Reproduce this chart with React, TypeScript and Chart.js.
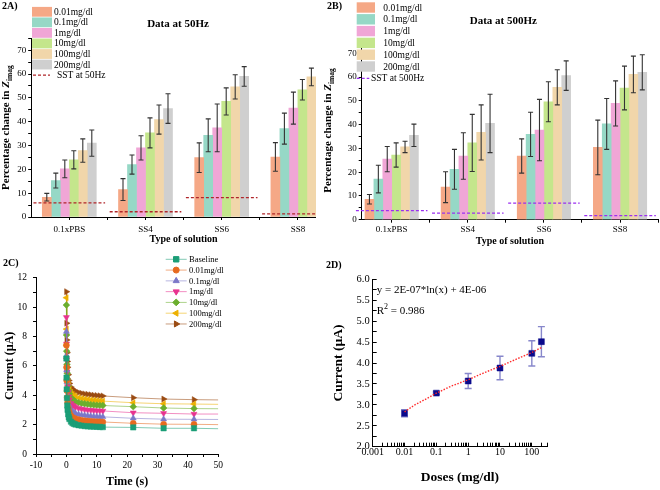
import React, { useEffect, useRef } from 'react';
import { Chart, registerables } from 'chart.js';
import { drawPoint } from 'chart.js/helpers';

Chart.register(...registerables);

const SERIF = "'Liberation Serif', 'Times New Roman', serif";
Chart.defaults.font.family = SERIF;
Chart.defaults.color = '#000';

// ---------------- 2A / 2B : bar charts ----------------
const solutions = ['0.1xPBS', 'SS4', 'SS6', 'SS8'];
const doseLabels = ['0.01mg/dl', '0.1mg/dl', '1mg/dl', '10mg/dl', '100mg/dl', '200mg/dl'];
const barColors = ['#F5A886', '#96D8C6', '#F0A6D6', '#C4E68C', '#F1D6AA', '#CFCFCF'];

// 50 Hz (per dose, values for the 4 solutions)
const pct50_001 = [8.3, 11.5, 24.9, 25.2];
const pct50_01 = [15.3, 22.0, 34.3, 37.1];
const pct50_1 = [20.2, 29.0, 37.4, 45.7];
const pct50_10 = [24.0, 35.3, 48.5, 53.4];
const pct50_100 = [27.9, 40.9, 54.6, 58.8];
const pct50_200 = [31.0, 45.5, 59.0, null];
const err50_001 = [1.6, 4.6, 6.2, 6.0];
const err50_01 = [3.1, 4.0, 6.9, 6.5];
const err50_1 = [3.7, 5.1, 10.0, 6.7];
const err50_10 = [3.8, 6.3, 5.7, 4.3];
const err50_100 = [4.9, 6.1, 5.1, 3.7];
const err50_200 = [5.5, 6.2, 4.1, null];
const sst50 = [5.9, 2.2, 8.1, 1.3];

// 500 Hz
const pct500_001 = [8.6, 13.7, 26.8, 30.4];
const pct500_01 = [17.1, 21.2, 35.9, 40.3];
const pct500_1 = [25.5, 26.8, 37.7, 48.9];
const pct500_10 = [27.2, 32.3, 49.6, 55.4];
const pct500_100 = [30.6, 36.7, 55.7, 61.1];
const pct500_200 = [35.5, 40.5, 60.6, 62.0];
const err500_001 = [2.0, 6.5, 7.2, 11.5];
const err500_01 = [5.8, 8.4, 9.3, 10.7];
const err500_1 = [5.3, 9.8, 12.9, 9.5];
const err500_10 = [5.1, 12.0, 8.4, 9.2];
const err500_100 = [2.4, 11.6, 7.4, 7.7];
const err500_200 = [4.7, 12.3, 6.2, 7.4];
const sst500 = [3.8, 2.8, 7.0, 1.7];

const solutionTickVals = [0, 0.5, 1, 1.5, 2, 2.5, 3, 3.5];
const pctTickVals = [0, 5, 10, 15, 20, 25, 30, 35, 40, 45, 50, 55, 60, 65, 70, 75];

// ---------------- 2C : chronoamperometry ----------------
const timeS = [0, 0.05, 0.1, 0.2, 0.3, 0.4, 0.6, 0.8, 1, 1.5, 2, 2.5, 3, 4, 5, 6, 7, 8, 9, 10, 11, 12, 22, 32, 42, 50];
const curveLabels = ['Baseline', '0.01mg/dl', '0.1mg/dl', '1mg/dl', '10mg/dl', '100mg/dl', '200mg/dl'];
const curBase = [6.5, 5.2, 4.4, 3.8, 3.3, 3.0, 2.7, 2.5, 2.38, 2.2, 2.1, 2.05, 2.01, 1.96, 1.93, 1.9, 1.88, 1.87, 1.86, 1.85, 1.84, 1.83, 1.81, 1.75, 1.75, 1.72];
const cur001 = [7.4, 5.9, 5.0, 4.3, 3.85, 3.5, 3.15, 2.95, 2.8, 2.6, 2.5, 2.44, 2.4, 2.34, 2.3, 2.27, 2.25, 2.23, 2.21, 2.2, 2.19, 2.18, 2.09, 2.03, 2.02, 2.0];
const cur01 = [8.33, 6.7, 5.7, 4.9, 4.4, 4.0, 3.6, 3.35, 3.2, 3.0, 2.9, 2.82, 2.77, 2.7, 2.66, 2.63, 2.6, 2.58, 2.56, 2.55, 2.54, 2.53, 2.43, 2.37, 2.36, 2.35];
const cur1 = [9.3, 7.5, 6.4, 5.6, 5.0, 4.6, 4.2, 3.9, 3.7, 3.45, 3.33, 3.25, 3.19, 3.12, 3.07, 3.03, 3.0, 2.98, 2.96, 2.95, 2.94, 2.93, 2.81, 2.77, 2.72, 2.72];
const cur10 = [10.14, 8.1, 7.0, 6.1, 5.5, 5.1, 4.65, 4.3, 4.1, 3.85, 3.72, 3.63, 3.57, 3.5, 3.45, 3.42, 3.39, 3.36, 3.34, 3.32, 3.31, 3.3, 3.22, 3.13, 3.09, 3.08];
const cur100 = [10.64, 8.5, 7.4, 6.5, 5.9, 5.5, 5.0, 4.65, 4.45, 4.2, 4.06, 3.97, 3.91, 3.83, 3.78, 3.74, 3.71, 3.68, 3.66, 3.64, 3.62, 3.6, 3.49, 3.42, 3.4, 3.38];
const cur200 = [11.05, 8.9, 7.76, 6.9, 6.3, 5.9, 5.4, 5.0, 4.8, 4.55, 4.42, 4.33, 4.27, 4.19, 4.13, 4.09, 4.06, 4.03, 4.0, 3.98, 3.96, 3.95, 3.83, 3.74, 3.7, 3.68];
const curveMarkColors = ['#1B9E77', '#E66A1F', '#7B78C8', '#E8338F', '#6BAE2E', '#EDB000', '#9A4B12'];
const curveLineColors = ['rgba(27,158,119,0.55)', 'rgba(230,106,31,0.55)', 'rgba(123,120,200,0.55)', 'rgba(232,51,143,0.55)', 'rgba(107,174,46,0.55)', 'rgba(237,176,0,0.55)', 'rgba(154,75,18,0.55)'];
const curveShapes = ['rect', 'circle', 'triangle', 'triangle', 'rectRot', 'triangle', 'triangle'];
const curveRotations = [0, 0, 0, 180, 0, 270, 90];
const curveRadii = [3.8, 3.0, 3.5, 3.5, 3.4, 3.5, 3.5];
const timeTickVals = [-10, -5, 0, 5, 10, 15, 20, 25, 30, 35, 40, 45, 50];
const currentTickVals = [0, 1, 2, 3, 4, 5, 6, 7, 8, 9, 10, 11, 12];

// ---------------- 2D : dose response ----------------
const doseX = [0.01, 0.1, 1, 10, 100, 200];
const doseCurrent = [2.8, 3.28, 3.57, 3.88, 4.23, 4.51];
const doseCurrentErr = [0.085, 0.03, 0.18, 0.28, 0.3, 0.36];
const fitX = [0.01, 0.02, 0.05, 0.1, 0.3, 1, 3, 10, 30, 100, 200];
const fitY = [2.83, 2.99, 3.15, 3.28, 3.45, 3.6, 3.76, 3.92, 4.08, 4.25, 4.37];
const doseTickLabels = ['0.001', '0.01', '0.1', '1', '10', '100'];
const doseCurrentTickVals = [2, 2.25, 2.5, 2.75, 3, 3.25, 3.5, 3.75, 4, 4.25, 4.5, 4.75, 5, 5.25, 5.5, 5.75, 6];

// ---------------- helpers / plugins ----------------
type Part = { text: string; font: string; dy?: number };
type TextItem = { parts: Part[]; x: number; y: number; align?: 'left' | 'center'; rotate?: boolean };

function drawParts(ctx: CanvasRenderingContext2D, it: TextItem) {
  ctx.save();
  ctx.translate(it.x, it.y);
  if (it.rotate) ctx.rotate(-Math.PI / 2);
  let total = 0;
  for (const p of it.parts) { ctx.font = p.font; total += ctx.measureText(p.text).width; }
  let x = it.align === 'left' ? 0 : -total / 2;
  ctx.textBaseline = 'alphabetic';
  ctx.textAlign = 'left';
  ctx.fillStyle = '#000';
  for (const p of it.parts) {
    ctx.font = p.font;
    ctx.fillText(p.text, x, p.dy ?? 0);
    x += ctx.measureText(p.text).width;
  }
  ctx.restore();
}

const textPlugin = (items: TextItem[]) => ({
  id: 'panelText',
  afterDraw(chart: any) { items.forEach((it) => drawParts(chart.ctx, it)); },
});

type LegendItem = { label: string; kind: 'box' | 'dash' | 'marker'; color: string; lineColor?: string; pointStyle?: string; rotation?: number; radius?: number };
type LegendCfg = {
  items: LegendItem[]; y0: number; dy: number; font: string;
  boxX?: number; boxW?: number; boxH?: number; textX: number;
  dashX0?: number; dashX1?: number; dashTextX?: number; lineX0?: number; lineX1?: number;
};

const legendPlugin = (cfg: LegendCfg) => ({
  id: 'panelLegend',
  afterDraw(chart: any) {
    const ctx: CanvasRenderingContext2D = chart.ctx;
    ctx.save();
    cfg.items.forEach((it, k) => {
      const y = cfg.y0 + k * cfg.dy;
      let tx = cfg.textX;
      if (it.kind === 'box') {
        ctx.fillStyle = it.color;
        ctx.fillRect(cfg.boxX!, y - cfg.boxH! / 2, cfg.boxW!, cfg.boxH!);
      } else if (it.kind === 'dash') {
        ctx.strokeStyle = it.color;
        ctx.lineWidth = 1.3;
        ctx.setLineDash([3, 2]);
        ctx.beginPath();
        ctx.moveTo(cfg.dashX0!, y);
        ctx.lineTo(cfg.dashX1!, y);
        ctx.stroke();
        ctx.setLineDash([]);
        tx = cfg.dashTextX ?? tx;
      } else {
        ctx.strokeStyle = it.lineColor || it.color;
        ctx.lineWidth = 1;
        ctx.beginPath();
        ctx.moveTo(cfg.lineX0!, y);
        ctx.lineTo(cfg.lineX1!, y);
        ctx.stroke();
        ctx.fillStyle = it.color;
        ctx.strokeStyle = it.color;
        drawPoint(ctx, { pointStyle: it.pointStyle as any, rotation: it.rotation || 0, radius: it.radius || 3, borderWidth: 0.5 } as any, (cfg.lineX0! + cfg.lineX1!) / 2, y);
      }
      ctx.fillStyle = '#000';
      ctx.font = cfg.font;
      ctx.textAlign = 'left';
      ctx.textBaseline = 'middle';
      ctx.fillText(it.label, tx, y + 0.5);
    });
    ctx.restore();
  },
});

const errorBarPlugin = (cfg: { color: string; width: number; cap: number; under?: boolean }) => {
  const draw = (chart: any) => {
    const ctx: CanvasRenderingContext2D = chart.ctx;
    const ys = chart.scales.y;
    ctx.save();
    ctx.strokeStyle = cfg.color;
    ctx.lineWidth = cfg.width;
    chart.data.datasets.forEach((ds: any, di: number) => {
      if (!ds.errors) return;
      const meta = chart.getDatasetMeta(di);
      meta.data.forEach((el: any, i: number) => {
        const e = ds.errors[i];
        const raw = ds.data[i];
        const v = raw ? raw.y : null;
        if (e == null || v == null) return;
        const x = el.x;
        const yt = ys.getPixelForValue(v + e);
        const yb = ys.getPixelForValue(v - e);
        ctx.beginPath();
        ctx.moveTo(x, yt); ctx.lineTo(x, yb);
        ctx.moveTo(x - cfg.cap / 2, yt); ctx.lineTo(x + cfg.cap / 2, yt);
        ctx.moveTo(x - cfg.cap / 2, yb); ctx.lineTo(x + cfg.cap / 2, yb);
        ctx.stroke();
      });
    });
    ctx.restore();
  };
  return {
    id: 'errorBars',
    beforeDatasetsDraw(chart: any) { if (cfg.under) draw(chart); },
    afterDatasetsDraw(chart: any) { if (!cfg.under) draw(chart); },
  };
};

const axisLine = { display: true, color: '#000', width: 1 };
const gridOut = (len: number) => ({ drawOnChartArea: false, drawTicks: true, tickLength: len, tickColor: '#000', tickWidth: 1, color: '#000', offset: false });

type BarPanel = {
  means: (number | null)[][]; errs: (number | null)[][]; sst: number[]; sstLabel: string; sstColor: string;
  title: string; titleX: number; titleY: number; zTitleX: number; zTitleY: number;
  xMin: number; xMax: number; padTop: number; padRight: number; yWidth: number; xHeight: number;
  xTickPad: number; xTitlePad: number; thickness: number; legend: LegendCfg;
};

function barConfig(p: BarPanel): any {
  const barSets = p.means.map((m, k) => ({
    type: 'bar',
    label: doseLabels[k],
    data: m.map((v, i) => ({ x: i, y: v })),
    errors: p.errs[k],
    backgroundColor: barColors[k],
    borderWidth: 0,
    barThickness: p.thickness,
    order: 2,
  }));
  const sstSet = {
    type: 'line',
    label: p.sstLabel,
    data: p.sst.flatMap((v, i) => [{ x: i - 0.47, y: v }, { x: i + 0.47, y: v }, { x: i + 0.5, y: null }]),
    borderColor: p.sstColor,
    borderWidth: 1.3,
    borderDash: [3, 2],
    pointRadius: 0,
    spanGaps: false,
    clip: false,
    order: 0,
  };
  const bold11 = `bold 11px ${SERIF}`;
  return {
    type: 'bar',
    data: { datasets: [...barSets, sstSet] },
    options: {
      responsive: false,
      animation: false,
      layout: { padding: { left: 0, top: p.padTop, right: p.padRight, bottom: 0 } },
      plugins: { legend: { display: false }, tooltip: { enabled: false }, title: { display: false } },
      scales: {
        x: {
          type: 'linear', min: p.xMin, max: p.xMax, offset: false,
          afterBuildTicks: (s: any) => { s.ticks = solutionTickVals.map((v) => ({ value: v })); },
          afterFit: (s: any) => { s.height = p.xHeight; },
          ticks: {
            autoSkip: false, maxRotation: 0, minRotation: 0, padding: p.xTickPad, font: { size: 9 },
            callback: (v: number) => (Number.isInteger(v) && solutions[v] ? solutions[v] : ''),
          },
          grid: gridOut(3),
          border: axisLine,
          title: { display: true, text: 'Type of solution', font: { size: 10, weight: 'bold' }, padding: { top: 0, bottom: p.xTitlePad } },
        },
        y: {
          type: 'linear', min: 0, max: 75,
          afterBuildTicks: (s: any) => { s.ticks = pctTickVals.map((v) => ({ value: v })); },
          afterFit: (s: any) => { s.width = p.yWidth; },
          ticks: { autoSkip: false, padding: 2, font: { size: 9 }, callback: (v: number) => (v % 10 === 0 ? String(v) : '') },
          grid: gridOut(3),
          border: axisLine,
        },
      },
    },
    plugins: [
      errorBarPlugin({ color: '#333', width: 1.1, cap: 5 }),
      legendPlugin(p.legend),
      textPlugin([
        { parts: [{ text: p.title, font: bold11 }], x: p.titleX, y: p.titleY },
        {
          rotate: true, x: p.zTitleX, y: p.zTitleY,
          parts: [
            { text: 'Percentage change in ', font: bold11 },
            { text: 'Z', font: `italic bold 11px ${SERIF}` },
            { text: 'imag', font: `bold 7.5px ${SERIF}`, dy: 2.5 },
          ],
        },
      ]),
    ],
  };
}

function legendItemsBars(sstLabel: string, sstColor: string): LegendItem[] {
  return [
    ...doseLabels.map((l, k) => ({ label: l, kind: 'box' as const, color: barColors[k] })),
    { label: sstLabel, kind: 'dash' as const, color: sstColor },
  ];
}

function configA(): any {
  return barConfig({
    means: [pct50_001, pct50_01, pct50_1, pct50_10, pct50_100, pct50_200],
    errs: [err50_001, err50_01, err50_1, err50_10, err50_100, err50_200],
    sst: sst50, sstLabel: 'SST at 50Hz', sstColor: '#B0262A',
    title: 'Data at 50Hz', titleX: 178, titleY: 27,
    zTitleX: 9, zTitleY: 127.6,
    xMin: -0.5, xMax: 3.5, padTop: 38.3, padRight: 20, yWidth: 31.2, xHeight: 33,
    xTickPad: 4.4, xTitlePad: 4.5, thickness: 9,
    legend: {
      items: legendItemsBars('SST at 50Hz', '#B0262A'), y0: 11.8, dy: 10.55, font: `9.5px ${SERIF}`,
      boxX: 32, boxW: 20, boxH: 9.8, textX: 54, dashX0: 33, dashX1: 50, dashTextX: 57,
    },
  });
}

function configB(): any {
  return barConfig({
    means: [pct500_001, pct500_01, pct500_1, pct500_10, pct500_100, pct500_200],
    errs: [err500_001, err500_01, err500_1, err500_10, err500_100, err500_200],
    sst: sst500, sstLabel: 'SST at 500Hz', sstColor: '#9B30F0',
    title: 'Data at 500Hz', titleX: 185.3, titleY: 24,
    zTitleX: 13, zTitleY: 130.5,
    xMin: -0.394, xMax: 3.5, padTop: 41.4, padRight: 1.6, yWidth: 43.7, xHeight: 32.3,
    xTickPad: 1.9, xTitlePad: 4.3, thickness: 8.9,
    legend: {
      items: legendItemsBars('SST at 500Hz', '#9B30F0'), y0: 7.5, dy: 11.8, font: `9.5px ${SERIF}`,
      boxX: 38.7, boxW: 18.3, boxH: 10.4, textX: 65.3, dashX0: 38.7, dashX1: 51.3, dashTextX: 53,
    },
  });
}

function configC(): any {
  const series = [curBase, cur001, cur01, cur1, cur10, cur100, cur200];
  const last = timeS.length - 1;
  const datasets = series.map((vals, k) => ({
    type: 'line',
    label: curveLabels[k],
    data: timeS.map((t, i) => ({ x: t, y: vals[i] })),
    borderColor: curveLineColors[k],
    borderWidth: 1,
    tension: 0,
    pointStyle: curveShapes[k],
    pointRotation: curveRotations[k],
    pointRadius: (c: any) => (c.dataIndex === last ? 0 : curveRadii[k]),
    pointBackgroundColor: curveMarkColors[k],
    pointBorderColor: curveMarkColors[k],
    pointBorderWidth: 0.5,
  }));
  return {
    type: 'line',
    data: { datasets },
    options: {
      responsive: false,
      animation: false,
      layout: { padding: { left: 0, top: 27.7, right: 21.7, bottom: 0 } },
      plugins: { legend: { display: false }, tooltip: { enabled: false } },
      scales: {
        x: {
          type: 'linear', min: -10, max: 50,
          afterBuildTicks: (s: any) => { s.ticks = timeTickVals.map((v) => ({ value: v })); },
          afterFit: (s: any) => { s.height = 36; },
          ticks: { autoSkip: false, maxRotation: 0, padding: 2.3, font: { size: 9.5 }, callback: (v: number) => (v % 10 === 0 ? String(v) : '') },
          grid: gridOut(3),
          border: axisLine,
          title: { display: true, text: 'Time (s)', font: { size: 12, weight: 'bold' }, padding: { top: 0, bottom: 1.1 } },
        },
        y: {
          type: 'linear', min: 0, max: 12,
          afterBuildTicks: (s: any) => { s.ticks = currentTickVals.map((v) => ({ value: v })); },
          afterFit: (s: any) => { s.width = 36; },
          ticks: { autoSkip: false, padding: 6, font: { size: 9.5 }, callback: (v: number) => (v % 2 === 0 ? String(v) : '') },
          grid: gridOut(3),
          border: axisLine,
          title: { display: true, text: 'Current (µA)', font: { size: 12, weight: 'bold' }, padding: { top: 2.8, bottom: 0 } },
        },
      },
    },
    plugins: [
      legendPlugin({
        items: curveLabels.map((l, k) => ({
          label: l, kind: 'marker' as const, color: curveMarkColors[k], lineColor: curveLineColors[k],
          pointStyle: curveShapes[k], rotation: curveRotations[k], radius: curveRadii[k],
        })),
        y0: 9.3, dy: 10.78, font: `8.5px ${SERIF}`, textX: 189, lineX0: 165.7, lineX1: 186.7,
      }),
    ],
  };
}

function configD(): any {
  const majors = doseTickLabels.map(Number);
  const logTicks: number[] = [];
  majors.forEach((m) => { for (let s = 1; s <= 9; s++) { if (s * m <= 300) logTicks.push(s * m); } });
  return {
    type: 'line',
    data: {
      datasets: [
        {
          type: 'line', label: 'Fit', data: fitX.map((x, i) => ({ x, y: fitY[i] })),
          borderColor: '#FF2A2A', borderWidth: 1.4, borderDash: [1.5, 1.5], pointRadius: 0, tension: 0, order: 0,
        },
        {
          type: 'line', label: 'Current', data: doseX.map((x, i) => ({ x, y: doseCurrent[i] })),
          errors: doseCurrentErr, showLine: false, pointStyle: 'rect', pointRadius: 4.2,
          pointBackgroundColor: '#0A0A8C', pointBorderColor: '#0A0A8C', pointBorderWidth: 0.5, order: 1,
        },
      ],
    },
    options: {
      responsive: false,
      animation: false,
      layout: { padding: { left: 0, top: 29.3, right: 113, bottom: 0 } },
      plugins: { legend: { display: false }, tooltip: { enabled: false } },
      scales: {
        x: {
          type: 'logarithmic', min: 0.001, max: 300,
          afterBuildTicks: (s: any) => { s.ticks = logTicks.map((v) => ({ value: v })); },
          afterFit: (s: any) => { s.height = 43.3; },
          ticks: {
            autoSkip: false, maxRotation: 0, padding: 3.6, font: { size: 10 },
            callback: (v: number) => doseTickLabels.find((l) => Math.abs(Number(l) / v - 1) < 1e-9) || '',
          },
          grid: gridOut(-4),
          border: axisLine,
          title: { display: true, text: 'Doses (mg/dl)', font: { size: 13.5, weight: 'bold' }, padding: { top: 0, bottom: 4.2 } },
        },
        y: {
          type: 'linear', min: 2, max: 6,
          afterBuildTicks: (s: any) => { s.ticks = doseCurrentTickVals.map((v) => ({ value: v })); },
          afterFit: (s: any) => { s.width = 42.7; },
          ticks: {
            autoSkip: false, padding: 7, font: { size: 10.5 },
            callback: (v: number) => (Math.abs(v * 2 - Math.round(v * 2)) < 1e-9 ? v.toFixed(1) : ''),
          },
          grid: gridOut(-4),
          border: axisLine,
          title: { display: true, text: 'Current (µA)', font: { size: 13.5, weight: 'bold' }, padding: { top: 0.2, bottom: 0 } },
        },
      },
    },
    plugins: [
      errorBarPlugin({ color: 'rgba(95,95,185,0.75)', width: 1.4, cap: 7, under: true }),
      textPlugin([
        { align: 'left', x: 46.7, y: 43, parts: [{ text: 'y = 2E-07*ln(x) + 4E-06', font: `11px ${SERIF}` }] },
        {
          align: 'left', x: 46.7, y: 64,
          parts: [
            { text: 'R', font: `11px ${SERIF}` },
            { text: '2', font: `8px ${SERIF}`, dy: -5 },
            { text: ' = 0.986', font: `11px ${SERIF}` },
          ],
        },
      ]),
    ],
  };
}

const labelStyle: React.CSSProperties = {
  position: 'absolute', font: `bold 10px ${SERIF}`, lineHeight: '12px', color: '#000', whiteSpace: 'nowrap',
};

export default function App() {
  const refA = useRef<HTMLCanvasElement>(null);
  const refB = useRef<HTMLCanvasElement>(null);
  const refC = useRef<HTMLCanvasElement>(null);
  const refD = useRef<HTMLCanvasElement>(null);

  useEffect(() => {
    const charts = [
      new Chart(refA.current as HTMLCanvasElement, configA()),
      new Chart(refB.current as HTMLCanvasElement, configB()),
      new Chart(refC.current as HTMLCanvasElement, configC()),
      new Chart(refD.current as HTMLCanvasElement, configD()),
    ];
    return () => charts.forEach((c) => c.destroy());
  }, []);

  return (
    <div style={{ position: 'absolute', left: 0, top: 0, width: 660, height: 490, overflow: 'hidden', background: '#fff' }}>
      <div style={{ position: 'absolute', left: 0, top: 0, width: 316, height: 250, overflow: 'hidden' }}>
        <canvas ref={refA} width={356} height={250} style={{ position: 'absolute', left: 0, top: 0, width: 356, height: 250 }} />
      </div>
      <canvas ref={refB} width={342} height={252} style={{ position: 'absolute', left: 318, top: 0, width: 342, height: 252 }} />
      <canvas ref={refC} width={240} height={240} style={{ position: 'absolute', left: 0, top: 250, width: 240, height: 240 }} />
      <canvas ref={refD} width={330} height={240} style={{ position: 'absolute', left: 330, top: 250, width: 330, height: 240 }} />
      <div style={{ ...labelStyle, left: 2, top: 0 }}>2A)</div>
      <div style={{ ...labelStyle, left: 327, top: 0 }}>2B)</div>
      <div style={{ ...labelStyle, left: 3, top: 257 }}>2C)</div>
      <div style={{ ...labelStyle, left: 326, top: 259 }}>2D)</div>
    </div>
  );
}
